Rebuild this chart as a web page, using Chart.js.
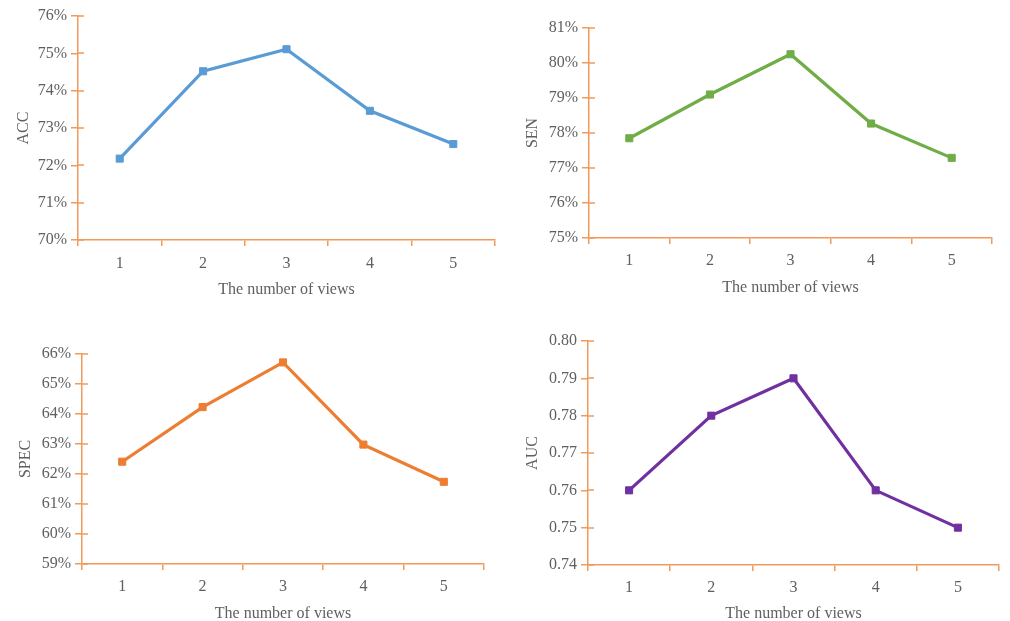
<!DOCTYPE html>
<html>
<head>
<meta charset="utf-8">
<script src="https://cdn.jsdelivr.net/npm/chart.js@4"></script>
<style>
  html, body { margin: 0; padding: 0; background: #fff; }
  body { width: 1010px; height: 621px; position: relative; overflow: hidden; }
  .box { position: absolute; }
</style>
</head>
<body>
<div class="box" style="left:0;top:0;width:505px;height:310px"><canvas id="c1"></canvas></div>
<div class="box" style="left:505px;top:0;width:505px;height:310px"><canvas id="c2"></canvas></div>
<div class="box" style="left:0;top:310px;width:505px;height:311px"><canvas id="c3"></canvas></div>
<div class="box" style="left:505px;top:310px;width:505px;height:311px"><canvas id="c4"></canvas></div>
<script>
const views = ['1', '2', '3', '4', '5'];
const accValues = [72.18, 74.52, 75.11, 73.46, 72.57];
const senValues = [77.85, 79.10, 80.25, 78.27, 77.29];
const specValues = [62.41, 64.23, 65.72, 62.98, 61.74];
const aucValues = [0.76, 0.78, 0.79, 0.76, 0.75];
const xTitle = 'The number of views';

const AXIS = '#F09A5C';
const TEXT = '#5f5f5f';
const FONT = 'Liberation Serif';

// draws the inner half of the y tick marks (the marks cross the axis)
const innerTicks = {
  id: 'innerTicks',
  afterDraw(chart) {
    const y = chart.scales.y;
    const ctx = chart.ctx;
    const x0 = chart.chartArea.left;
    ctx.save();
    ctx.strokeStyle = AXIS;
    ctx.lineWidth = 1.5;
    y.ticks.forEach(t => {
      const py = Math.round(y.getPixelForValue(t.value));
      ctx.beginPath();
      ctx.moveTo(x0, py);
      ctx.lineTo(x0 + 6, py);
      ctx.stroke();
    });
    ctx.restore();
  }
};

function make(id, g) {
  new Chart(document.getElementById(id), {
    type: 'line',
    data: {
      labels: views,
      datasets: [{
        data: g.data,
        borderColor: g.color,
        backgroundColor: g.color,
        borderWidth: 3.2,
        pointStyle: 'rect',
        pointRadius: 5,
        pointBorderWidth: 1,
        pointBorderColor: g.color,
        pointBackgroundColor: g.color,
        tension: 0,
        clip: false
      }]
    },
    options: {
      responsive: true,
      maintainAspectRatio: false,
      animation: false,
      events: [],
      layout: { padding: { left: 0, top: g.top, right: g.right, bottom: 0 } },
      plugins: { legend: { display: false }, tooltip: { enabled: false } },
      scales: {
        x: {
          offset: true,
          grid: { display: true, offset: true, drawOnChartArea: false, drawTicks: true, tickLength: 6, color: AXIS, lineWidth: 1.5 },
          border: { display: true, color: AXIS, width: 1.5 },
          ticks: { color: TEXT, font: { family: FONT, size: 16 }, padding: g.xpad, maxRotation: 0 },
          title: { display: true, text: xTitle, color: TEXT, font: { family: FONT, size: 16, lineHeight: 1 }, padding: { top: 0, bottom: g.xtb } },
          afterFit(s) { s.height = g.xh; }
        },
        y: {
          min: g.min, max: g.max,
          grid: { display: true, drawOnChartArea: false, drawTicks: true, tickLength: 7, color: AXIS, lineWidth: 1.5 },
          border: { display: true, color: AXIS, width: 1.5 },
          ticks: {
            stepSize: g.step, color: TEXT, font: { family: FONT, size: 16 }, padding: 4,
            callback: g.fmt
          },
          title: { display: true, text: g.ytitle, color: TEXT, font: { family: FONT, size: 16, lineHeight: 1 }, padding: { top: g.ytp, bottom: 0 } },
          afterFit(s) { s.width = g.yw; }
        }
      }
    },
    plugins: [innerTicks]
  });
}

const pct = v => Math.round(v) + '%';
const dec = v => v.toFixed(2);

make('c1', { data: accValues, color: '#5B9BD5', min: 70, max: 76, step: 1, fmt: pct, ytitle: 'ACC',
  top: 16, right: 10, yw: 78, xh: 70, xpad: 8, xtb: 12, ytp: 16 });
make('c2', { data: senValues, color: '#70AD47', min: 75, max: 81, step: 1, fmt: pct, ytitle: 'SEN',
  top: 28, right: 18, yw: 84, xh: 72, xpad: 7, xtb: 14, ytp: 20 });
make('c3', { data: specValues, color: '#ED7D31', min: 59, max: 66, step: 1, fmt: pct, ytitle: 'SPEC',
  top: 44, right: 21, yw: 82, xh: 57, xpad: 7, xtb: -1, ytp: 18 });
make('c4', { data: aucValues, color: '#7030A0', min: 0.74, max: 0.80, step: 0.01, fmt: dec, ytitle: 'AUC',
  top: 31, right: 11, yw: 83, xh: 56, xpad: 7, xtb: -1, ytp: 20 });
</script>
</body>
</html>
